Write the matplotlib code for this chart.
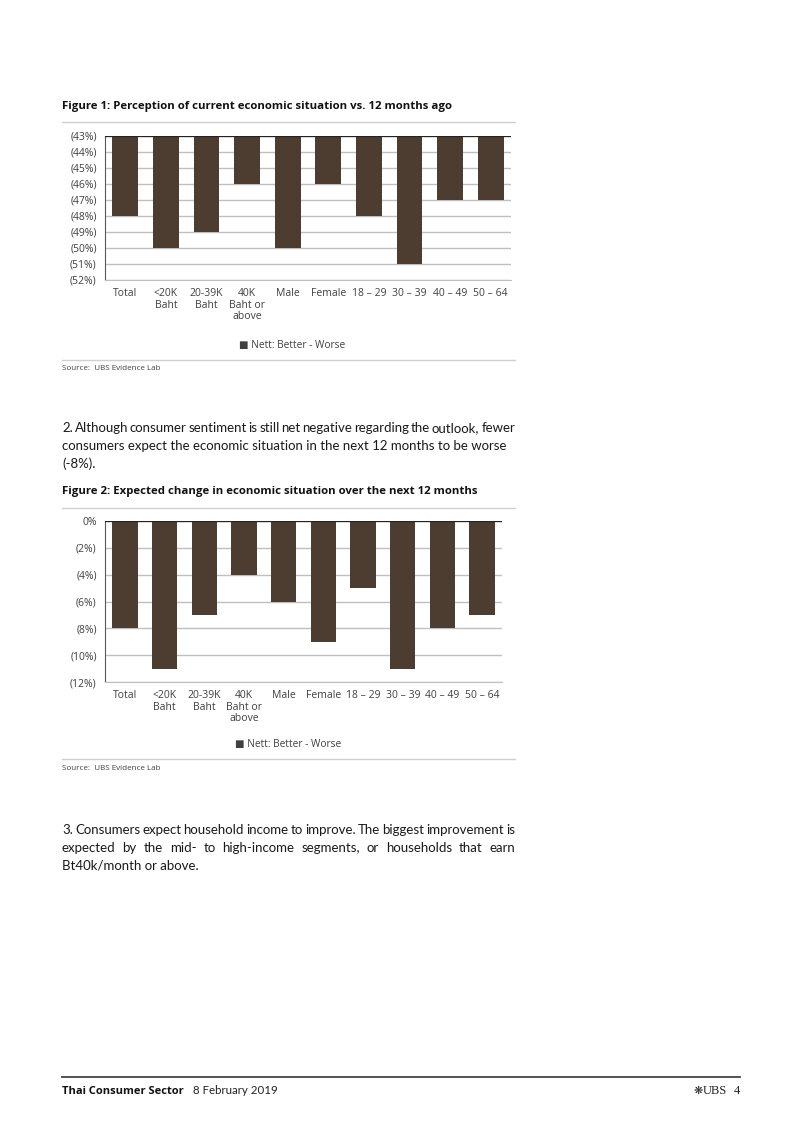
import numpy as np
import matplotlib
matplotlib.use("Agg")
import matplotlib.pyplot as plt
from matplotlib.ticker import FuncFormatter

categories = ['Total', '<20K\nBaht', '20-39K\nBaht', '40K\nBaht or\nabove', 'Male',
              'Female', '18 – 29', '30 – 39', '40 – 49', '50 – 64']
fig1_values = [-48, -50, -49, -46, -50, -46, -48, -51, -47, -47]
fig1_ticks = list(range(-52, -42))
fig2_values = [-8, -11, -7, -4, -6, -9, -5, -11, -8, -7]
fig2_ticks = list(range(-12, 1, 2))

para2 = ["2. Although consumer sentiment is still net negative regarding the outlook, fewer",
         "consumers expect the economic situation in the next 12 months to be worse",
         "(-8%)."]
para3 = ["3. Consumers expect household income to improve. The biggest improvement is",
         "expected by the mid- to high-income segments, or households that earn",
         "Bt40k/month or above."]

plt.rcParams['font.family'] = ['Open Sans', 'DejaVu Sans']
BAR = '#4d3c30'
GRID = '#bfbfbf'
TXT = '#404040'
W, H = 802, 1133
BODY_FONT = ['Lato', 'DejaVu Sans']

fig = plt.figure(figsize=(W / 100, H / 100), dpi=100)


def fx(x):
    return x / W


def fy(y):
    return 1 - y / H


def box(l, t, r, b):
    return [fx(l), fy(b), (r - l) / W, (b - t) / H]


def pct(v, pos):
    return '0%' if v == 0 else '({:.0f}%)'.format(abs(v))


def hline(y, x0=62, x1=515, color='#d0d0d0', lw=1.0):
    fig.add_artist(plt.Line2D([fx(x0), fx(x1)], [fy(y), fy(y)], color=color, lw=lw))


def bar_chart(rect, values, ticks, top):
    ax = fig.add_axes(rect)
    x = np.arange(len(values))
    ax.bar(x, np.array(values) - top, bottom=top, width=0.64, color=BAR, zorder=3)
    ax.set_xlim(-0.5, len(values) - 0.5)
    ax.set_ylim(ticks[0], ticks[-1])
    ax.set_yticks(ticks)
    ax.yaxis.set_major_formatter(FuncFormatter(pct))
    ax.set_xticks(x, categories)
    ax.grid(axis='y', color=GRID, lw=1, zorder=0)
    ax.axhline(top, color='#222222', lw=1.6, zorder=4)
    for s in ['top', 'right']:
        ax.spines[s].set_visible(False)
    ax.spines['bottom'].set_color(GRID)
    ax.spines['left'].set_color('#595959')
    ax.tick_params(axis='both', length=0, labelsize=7.5, colors=TXT)
    ax.tick_params(axis='y', pad=6)
    ax.tick_params(axis='x', pad=6)
    for lab in ax.get_xticklabels():
        lab.set_linespacing(1.05)
    return ax


renderer = fig.canvas.get_renderer()


# body text: y is the line's middle, text sits on a baseline 4px lower
def justify(line, y, x0=62, x1=515, size=9.5, color='#1a1a1a'):
    words = line.split(' ')
    widths = []
    for w in words:
        t = fig.text(0, 0, w, fontsize=size, family=BODY_FONT)
        widths.append(t.get_window_extent(renderer).width)
        t.remove()
    gap = ((x1 - x0) - sum(widths)) / (len(words) - 1)
    pos = x0
    for w, wd in zip(words, widths):
        fig.text(fx(pos), fy(y + 4), w, fontsize=size, color=color, va='baseline', ha='left',
                 family=BODY_FONT)
        pos += wd + gap


def plain(line, y, x0=62, size=9.5, color='#1a1a1a'):
    fig.text(fx(x0), fy(y + 4), line, fontsize=size, color=color, va='baseline', ha='left',
             family=BODY_FONT)


# Figure 1
fig.text(fx(62), fy(106), 'Figure 1: Perception of current economic situation vs. 12 months ago',
         fontsize=8.2, fontweight='bold', color='#111111', va='center')
hline(122)
bar_chart(box(105, 136, 511, 280), fig1_values, fig1_ticks, -43)
fig.text(fx(292), fy(346), '■ Nett: Better - Worse', fontsize=7.3, color=TXT, ha='center', va='center')
hline(360)
fig.text(fx(62), fy(368), 'Source:  UBS Evidence Lab', fontsize=5.8, color=TXT, va='center')

# paragraph 2
justify(para2[0], 428)
plain(para2[1], 446)
plain(para2[2], 464)

# Figure 2
fig.text(fx(62), fy(492), 'Figure 2: Expected change in economic situation over the next 12 months',
         fontsize=8.2, fontweight='bold', color='#111111', va='center')
hline(508)
bar_chart(box(105, 521, 502, 682), fig2_values, fig2_ticks, 0)
fig.text(fx(288), fy(745), '■ Nett: Better - Worse', fontsize=7.3, color=TXT, ha='center', va='center')
hline(759)
fig.text(fx(62), fy(768), 'Source:  UBS Evidence Lab', fontsize=5.8, color=TXT, va='center')

# paragraph 3
justify(para3[0], 830)
justify(para3[1], 848)
plain(para3[2], 866)

# footer
hline(1077, 62, 740, color='#444444', lw=1.3)
fig.text(fx(62), fy(1091), 'Thai Consumer Sector', fontsize=8.0, fontweight='bold',
         color='#111111', va='center')
fig.text(fx(193), fy(1091), '8 February 2019', fontsize=8.3, color='#222222', va='center',
         family=BODY_FONT)
fig.text(fx(740), fy(1091), '4', fontsize=9, color='#222222', va='center', ha='right',
         family='Liberation Serif')
fig.text(fx(727), fy(1091), 'UBS', fontsize=9, color='#222222', va='center', ha='right',
         family='Liberation Serif')
fig.text(fx(703), fy(1091), '❋', fontsize=8, color='#222222', va='center', ha='right',
         family='DejaVu Sans')

fig.savefig('out.png', dpi=100)
